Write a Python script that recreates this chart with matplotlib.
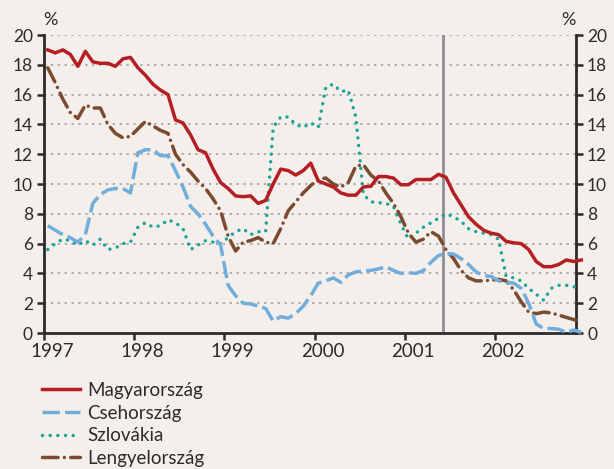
import matplotlib
matplotlib.use("Agg")
import matplotlib.pyplot as plt
import matplotlib.transforms as mtransforms
import numpy as np

plt.rcParams['font.family'] = ['Lato', 'DejaVu Sans']

years = [1997, 1998, 1999, 2000, 2001, 2002]
yticks = list(range(0, 21, 2))
labels = ["Magyarország", "Csehország", "Szlovákia", "Lengyelország"]

hu = [19.0, 18.8, 19.0, 18.7, 17.9, 18.9, 18.2, 18.1, 18.1, 17.9, 18.4, 18.5,
      17.8, 17.3, 16.7, 16.3, 16.0, 14.3, 14.1, 13.3, 12.3, 12.1, 11.0, 10.1,
      9.7, 9.2, 9.15, 9.2, 8.7, 8.9, 10.0, 11.0, 10.9, 10.6, 10.9, 11.4,
      10.2, 10.0, 9.8, 9.4, 9.25, 9.25, 9.8, 9.85, 10.5, 10.5, 10.4, 9.95,
      9.95, 10.3, 10.3, 10.3, 10.65, 10.45, 9.4, 8.6, 7.8, 7.3, 6.9, 6.7,
      6.6, 6.15, 6.05, 6.0, 5.6, 4.8, 4.45, 4.45, 4.6, 4.9, 4.8, 4.9]
cz = [7.2, 6.9, 6.6, 6.4, 6.1, 6.6, 8.7, 9.3, 9.6, 9.7, 9.7, 9.4,
      12.1, 12.3, 12.3, 11.9, 11.9, 10.9, 9.8, 8.5, 8.0, 7.3, 6.5, 5.9,
      3.2, 2.5, 2.0, 1.95, 1.8, 1.65, 0.8, 1.1, 1.0, 1.3, 1.8, 2.5,
      3.35, 3.5, 3.7, 3.4, 3.9, 4.1, 4.15, 4.2, 4.3, 4.45, 4.2, 4.0,
      4.05, 4.0, 4.2, 4.75, 5.2, 5.35, 5.3, 5.0, 4.6, 4.1, 3.85, 3.8,
      3.5, 3.4, 3.35, 3.0, 2.0, 0.6, 0.3, 0.3, 0.25, 0.05, 0.2, 0.05]
sk = [5.6, 6.0, 6.3, 6.2, 5.9, 6.2, 5.9, 6.3, 5.6, 5.7, 6.0, 6.1,
      7.1, 7.4, 7.1, 7.2, 7.6, 7.4, 7.0, 5.6, 5.9, 6.2, 6.1, 6.0,
      6.4, 6.8, 7.0, 6.6, 6.8, 6.8, 13.8, 14.5, 14.5, 14.0, 13.8, 14.1,
      13.8, 16.5, 16.7, 16.2, 16.3, 14.5, 9.3, 8.8, 8.75, 8.7, 8.5, 7.3,
      6.3, 6.7, 7.1, 7.4, 7.7, 8.0, 7.8, 7.5, 7.0, 6.8, 6.7, 6.6,
      6.3, 3.8, 3.7, 3.5, 3.0, 2.6, 2.2, 3.0, 3.2, 3.2, 3.1, 3.1]
pl = [17.8, 16.8, 15.7, 14.8, 14.4, 15.3, 15.1, 15.1, 14.0, 13.4, 13.1, 13.2,
      13.7, 14.2, 13.9, 13.6, 13.4, 12.0, 11.3, 10.8, 10.2, 9.7, 9.0, 8.2,
      6.5, 5.5, 6.1, 6.2, 6.4, 6.1, 6.0, 7.0, 8.2, 8.8, 9.4, 9.9,
      10.3, 10.4, 10.0, 9.8, 10.1, 11.2, 11.3, 10.6, 10.2, 9.4, 8.7, 7.8,
      6.7, 6.1, 6.3, 6.8, 6.5, 5.6, 5.0, 4.2, 3.7, 3.5, 3.5, 3.55,
      3.6, 3.5, 2.9, 2.1, 1.4, 1.3, 1.4, 1.35, 1.2, 1.05, 0.9, 0.8]
marker_year = 2001.43

n = len(hu)
x = 1997 + (np.arange(n) + 0.5) / 12.0

bg = '#F5EFEB'
ink = '#2b2b2b'
fig = plt.figure(figsize=(6.14, 4.69), dpi=100, facecolor=bg)
ax = fig.add_axes([44/614, 1 - 333/469, (576-44)/614, (333-35)/469])
ax.set_facecolor(bg)

ax.set_xlim(1997, 2002.9)
ax.set_ylim(0, 20)

for yv in yticks[1:]:
    ax.axhline(yv, color='#9a9a9a', lw=1.1, dashes=(1.5, 3.0), zorder=1)

ax.axvline(marker_year, color='#8e8e94', lw=2.0, zorder=2)

ax.plot(x, hu, color='#B51F24', lw=2.5, label=labels[0], zorder=5, clip_on=False,
        solid_joinstyle='round')
ax.plot(x, cz, color='#72AEDC', lw=2.5, dashes=(5.0, 1.5), label=labels[1], zorder=4,
        clip_on=False)
ax.plot(x, sk, color='#1AA39A', lw=2.5, dashes=(0.01, 2.2), dash_capstyle='round',
        label=labels[2], zorder=3, clip_on=False)
ax.plot(x, pl, color='#7A4B30', lw=2.5, dashes=(4.5, 1.8, 0.01, 1.8),
        dash_capstyle='round', label=labels[3], zorder=3, clip_on=False)

ax.spines['top'].set_visible(False)
for side in ['left', 'right', 'bottom']:
    ax.spines[side].set_color(ink)
    ax.spines[side].set_linewidth(2.0)

ax.set_yticks(yticks)
ax.set_yticklabels([str(v) for v in yticks])
ax.set_xticks(years)
ax.set_xticklabels([str(v) for v in years])
ax.tick_params(axis='y', which='both', direction='out', length=5, width=1.8,
               color=ink, labelsize=12.5, labelcolor=ink,
               left=True, right=True, labelleft=True, labelright=True, pad=3)
ax.tick_params(axis='x', direction='out', length=5, width=1.8, color=ink,
               labelsize=13.5, labelcolor=ink, pad=2)
offset = mtransforms.ScaledTranslation(8/100, 0, fig.dpi_scale_trans)
for lab in ax.get_xticklabels():
    lab.set_transform(lab.get_transform() + offset)

fig.text(50/614, 1 - 20/469, '%', fontsize=13, color=ink, ha='center', va='center')
fig.text(568/614, 1 - 20/469, '%', fontsize=13, color=ink, ha='center', va='center')

leg = fig.legend(loc='upper left', bbox_to_anchor=(42/614, 1 - 382/469), frameon=False,
                 fontsize=13.5, handlelength=2.0, handletextpad=0.43, labelspacing=0.3,
                 borderaxespad=0, borderpad=0)
for t in leg.get_texts():
    t.set_color(ink)

fig.savefig('out.png', dpi=100, facecolor=bg)
